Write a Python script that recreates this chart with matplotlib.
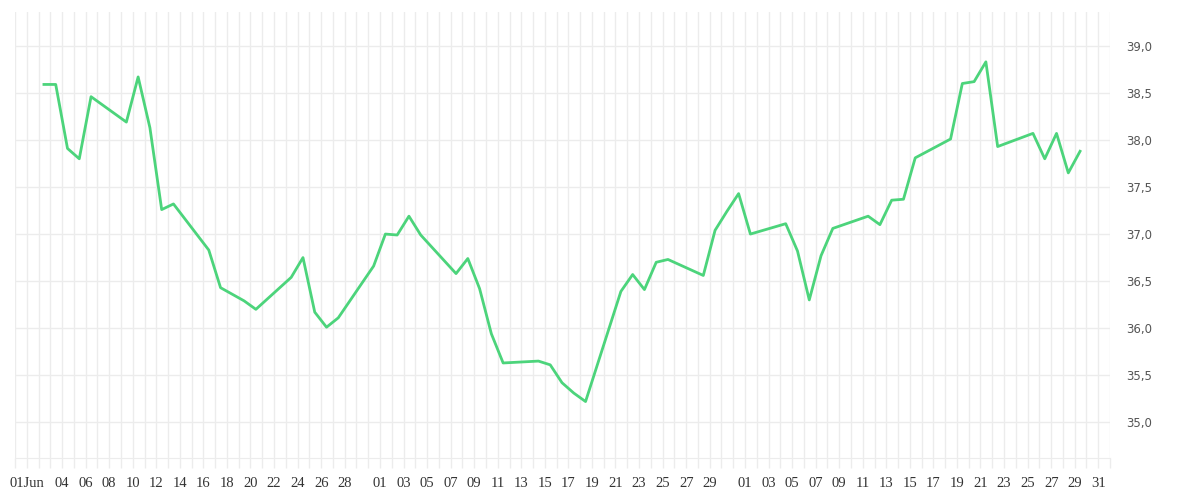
import matplotlib
matplotlib.use("Agg")
import matplotlib.pyplot as plt
import matplotlib.dates as mdates
from matplotlib.ticker import FuncFormatter
import pandas as pd

dates = ["2025-06-02", "2025-06-03", "2025-06-04", "2025-06-05", "2025-06-06",
         "2025-06-09", "2025-06-10", "2025-06-11", "2025-06-12", "2025-06-13",
         "2025-06-16", "2025-06-17", "2025-06-18", "2025-06-19", "2025-06-20",
         "2025-06-23", "2025-06-24", "2025-06-25", "2025-06-26", "2025-06-27",
         "2025-06-30", "2025-07-01", "2025-07-02", "2025-07-03", "2025-07-04",
         "2025-07-07", "2025-07-08", "2025-07-09", "2025-07-10", "2025-07-11",
         "2025-07-14", "2025-07-15", "2025-07-16", "2025-07-17", "2025-07-18",
         "2025-07-21", "2025-07-22", "2025-07-23", "2025-07-24", "2025-07-25",
         "2025-07-28", "2025-07-29", "2025-07-30", "2025-07-31", "2025-08-01",
         "2025-08-04", "2025-08-05", "2025-08-06", "2025-08-07", "2025-08-08",
         "2025-08-11", "2025-08-12", "2025-08-13", "2025-08-14", "2025-08-15",
         "2025-08-18", "2025-08-19", "2025-08-20", "2025-08-21", "2025-08-22",
         "2025-08-25", "2025-08-26", "2025-08-27", "2025-08-28", "2025-08-29"]
values = [38.59, 38.59, 37.91, 37.80, 38.46,
          38.19, 38.67, 38.13, 37.26, 37.32,
          36.83, 36.43, 36.36, 36.29, 36.20,
          36.54, 36.75, 36.17, 36.01, 36.11,
          36.66, 37.00, 36.99, 37.19, 36.99,
          36.58, 36.74, 36.42, 35.94, 35.63,
          35.65, 35.61, 35.42, 35.31, 35.22,
          36.39, 36.57, 36.41, 36.70, 36.73,
          36.56, 37.04, 37.24, 37.43, 37.00,
          37.11, 36.82, 36.30, 36.77, 37.06,
          37.19, 37.10, 37.36, 37.37, 37.81,
          38.01, 38.60, 38.62, 38.83, 37.93,
          38.07, 37.80, 38.07, 37.65, 37.88]

tick_dates = (["2025-06-01"]
              + [f"2025-06-{d:02d}" for d in range(4, 29, 2)]
              + [f"2025-07-{d:02d}" for d in range(1, 30, 2)]
              + [f"2025-08-{d:02d}" for d in range(1, 32, 2)])
y_ticks = [35.0, 35.5, 36.0, 36.5, 37.0, 37.5, 38.0, 38.5, 39.0]

# points sit around midday, grid lines at midnight
x = pd.to_datetime(dates) + pd.Timedelta(hours=11)
ticks = pd.to_datetime(tick_dates)
labels = [t.strftime("%d%b") if i == 0 else t.strftime("%d") for i, t in enumerate(ticks)]

grid_c = "#ececec"

fig = plt.figure(figsize=(12, 5), dpi=100)
ax = fig.add_axes([0.0125, 0.084, 0.9125, 0.892])

ax.plot(x, values, color="#4cd47b", lw=2.0, zorder=3)

ax.set_xlim(pd.Timestamp("2025-05-31"), pd.Timestamp("2025-09-01"))
ax.set_ylim(34.62, 39.36)

ax.xaxis.set_minor_locator(mdates.DayLocator())
ax.set_xticks(ticks)
ax.set_xticklabels(labels)
ax.grid(True, which="both", axis="x", color=grid_c, lw=1)
ax.set_yticks(y_ticks)
ax.yaxis.set_major_formatter(FuncFormatter(lambda v, p: f"{v:.1f}".replace(".", ",")))
ax.grid(True, which="major", axis="y", color=grid_c, lw=1)
ax.yaxis.tick_right()

ax.tick_params(axis="x", which="both", length=7.5, color=grid_c, width=1,
               labelsize=10.5, labelcolor="#333333", pad=6)
for lab in ax.get_xticklabels():
    lab.set_family("Liberation Serif")
ax.tick_params(axis="y", length=0, labelsize=8.5, labelcolor="#555555", pad=12)

for s in ["top", "left", "right"]:
    ax.spines[s].set_visible(False)
ax.spines["bottom"].set_color(grid_c)
ax.set_axisbelow(True)

fig.savefig("out.png")
